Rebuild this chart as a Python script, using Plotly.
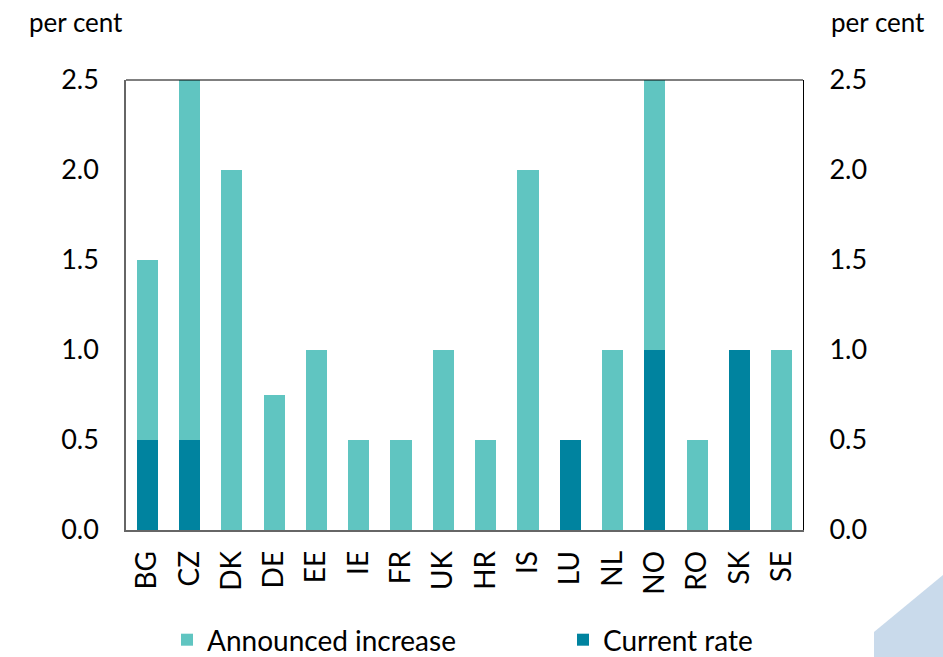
import plotly.graph_objects as go

countries = ["BG", "CZ", "DK", "DE", "EE", "IE", "FR", "UK", "HR", "IS", "LU", "NL", "NO", "RO", "SK", "SE"]
current_rate = [0.5, 0.5, 0, 0, 0, 0, 0, 0, 0, 0, 0.5, 0, 1.0, 0, 1.0, 0]
announced_increase = [1.0, 2.0, 2.0, 0.75, 1.0, 0.5, 0.5, 1.0, 0.5, 2.0, 0, 1.0, 1.5, 0.5, 0, 1.0]
y_ticks = [0.0, 0.5, 1.0, 1.5, 2.0, 2.5]
y_tick_text = ["0.0", "0.5", "1.0", "1.5", "2.0", "2.5"]

LIGHT = "#60C5C1"
DARK = "#00839F"
FONT = "Lato"

W, H = 943, 657
L, R, T, B = 126, 140, 80, 127
pw, ph = W - L - R, H - T - B


def px(x):
    return (x - L) / pw


def py(y):
    return (H - B - y) / ph


fig = go.Figure()
fig.add_trace(go.Bar(x=countries, y=current_rate, name="Current rate",
                     marker=dict(color=DARK, line=dict(width=0)), legend="legend2"))
fig.add_trace(go.Bar(x=countries, y=announced_increase, name="Announced increase",
                     marker=dict(color=LIGHT, line=dict(width=0)), legend="legend"))
# invisible trace to anchor right axis
fig.add_trace(go.Scatter(x=[countries[0]], y=[0], yaxis="y2", mode="markers",
                         marker=dict(opacity=0), showlegend=False, hoverinfo="skip"))

path = "M {},{} L {},{} L {},{} L {},{} Z".format(
    px(874), py(657), px(874), py(632), px(943), py(575), px(943), py(657))

legend_common = dict(orientation="h", xref="container", yref="container",
                     xanchor="left", y=1 - 615 / H, yanchor="top",
                     font=dict(size=28), itemwidth=30, bgcolor="rgba(0,0,0,0)")

fig.update_layout(
    width=W, height=H,
    margin=dict(l=L, r=R, t=T, b=B, autoexpand=False),
    barmode="stack", bargap=0.5,
    paper_bgcolor="white", plot_bgcolor="white",
    font=dict(family=FONT, color="black"),
    xaxis=dict(tickangle=-90, tickfont=dict(size=28), showline=True, linecolor="#666666",
               linewidth=1.5, ticks="", showgrid=False, ticklabelstandoff=8, automargin=False,
               range=[-0.5, len(countries) - 0.5]),
    yaxis=dict(range=[0, 2.5], tickvals=y_ticks, ticktext=y_tick_text, tickfont=dict(size=27),
               showline=True, linecolor="#666666", linewidth=1.5, showgrid=False, zeroline=False,
               ticks="", ticklabelstandoff=20, automargin=False),
    yaxis2=dict(range=[0, 2.5], tickvals=y_ticks, ticktext=y_tick_text, tickfont=dict(size=27),
                overlaying="y", side="right", showline=True, linecolor="black", linewidth=1,
                showgrid=False, zeroline=False, ticks="", ticklabelstandoff=20, automargin=False),
    legend=dict(x=167 / W, **legend_common),
    legend2=dict(x=563 / W, **legend_common),
    showlegend=True,
    annotations=[
        dict(text="per cent", x=px(27), y=py(22), xref="paper", yref="paper", xanchor="left",
             yanchor="middle", showarrow=False, font=dict(size=26)),
        dict(text="per cent", x=px(829), y=py(22), xref="paper", yref="paper", xanchor="left",
             yanchor="middle", showarrow=False, font=dict(size=26)),
    ],
    shapes=[
        dict(type="line", xref="paper", yref="paper", x0=0, x1=1, y0=1, y1=1,
             line=dict(color="black", width=1)),
        dict(type="path", path=path, xref="paper", yref="paper",
             fillcolor="#C9DAEB", line=dict(width=0), layer="below"),
    ],
)

fig.write_html("out.html", config={"displayModeBar": False},
               post_script="document.body.style.margin='0px';")
